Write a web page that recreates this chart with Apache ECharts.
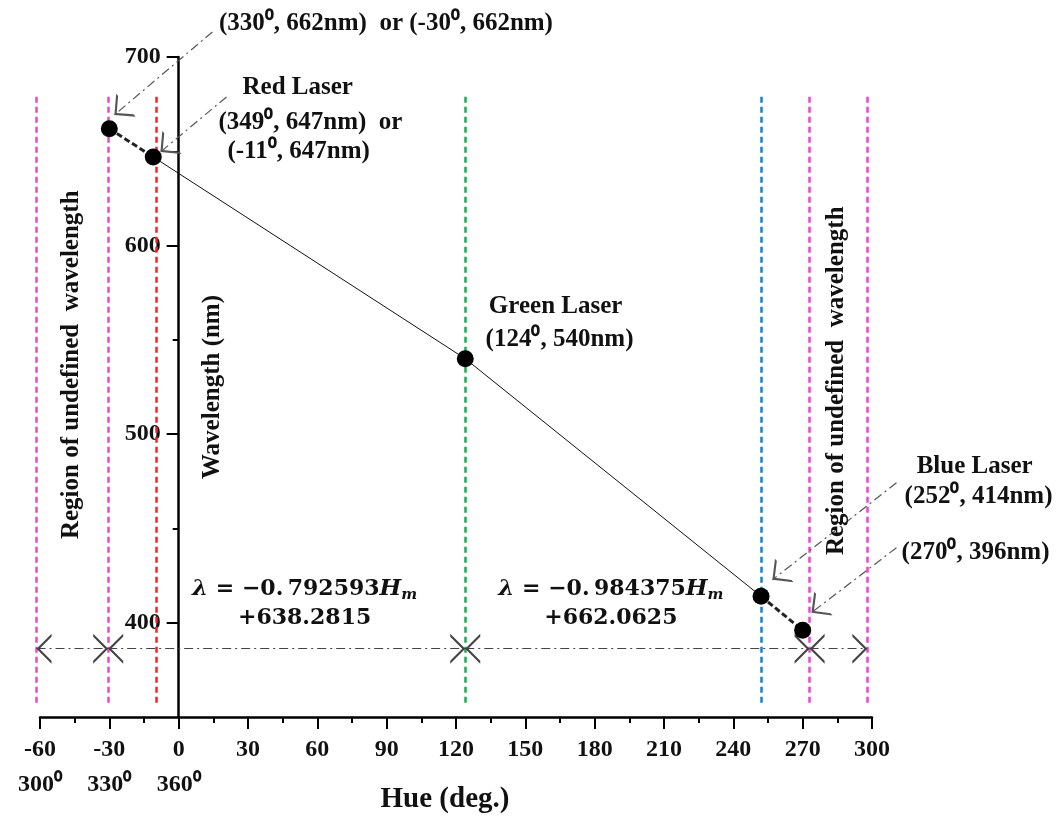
<!DOCTYPE html>
<html><head><meta charset="utf-8">
<script src="https://cdn.jsdelivr.net/npm/echarts@6/dist/echarts.min.js"></script>
<style>html,body{margin:0;padding:0;background:#fff}#c{width:1058px;height:817px}</style>
</head><body><div id="c"></div>
<script>
// measured laser points
const hues = [-30, -11, 124, 252, 270];
const wavelengths = [662, 647, 540, 414, 396];
// y axis ticks
const yMajorTicks = [400, 500, 600, 700];
const yMinorTicks = [450, 550, 650];
// vertical dashed guide lines
const guideHues = [-61.5, -30.5, -9.5, 124, 252, 273, 298];
const guideColors = ['#ea46cf', '#ea46cf', '#ff1f1f', '#1faa50', '#1a7fd0', '#ea46cf', '#ea46cf'];
const guideRange = [357.5, 680];
// horizontal double-arrow span line
const spanBounds = [-61.5, -30.5, 124, 273, 298];
const spanWave = 386.2;
// x tick labels (second row for wrapped hue)
const xSecondRow = { '-60': '300⁰', '-30': '330⁰', '0': '360⁰' };
// callout arrows (from label to point)
const calloutFrom = [[14.6, 713.3], [20.7, 678.8], [310.6, 474.2], [310.6, 439.8]];
const calloutTo = [[-27.8, 669.3], [-7.9, 649.6], [256.9, 422.8], [273.8, 405.3]];
// text annotations
const labelTexts = ['(330⁰, 662nm)  or (-30⁰, 662nm)', 'Red Laser', '(349⁰, 647nm)  or', '(-11⁰, 647nm)',
  'Green Laser', '(124⁰, 540nm)', 'Blue Laser', '(252⁰, 414nm)', '(270⁰, 396nm)',
  'Region of undefined  wavelength', 'Region of undefined  wavelength'];
const labelHues = [89.7, 51.5, 57.0, 51.9, 163.1, 164.8, 344.4, 346.1, 344.8, -46.4, 284.6];
const labelWaves = [717.5, 683.6, 665.5, 649.6, 567.5, 550.0, 482.7, 466.8, 437.1, 536.8, 528.3];
const labelRotations = [0, 0, 0, 0, 0, 0, 0, 0, 0, 90, 90];
// fitted equations
const formulaTexts = ['{i|λ} = −0.\u2009792593{i|H}{s|m}\n+638.2815', '{i|λ} = −0.\u2009984375{i|H}{s|m}\n+662.0625'];
const formulaHues = [54.5, 187.0];
const formulaWaves = [410.3, 410.3];

const serif = "'Liberation Serif', 'Times New Roman', serif";
const arrowPath = 'path://M0,0 L0.01,0 L0,0.01 Z M5,10 L10,20 L9,20 L5,12 L1,20 L0,20 Z';
const X_MIN = -60, X_MAX = 300, GRID_LEFT = 40, GRID_RIGHT = 186, W = 1058;
const zeroOffset = (0 - X_MIN) / (X_MAX - X_MIN) * (W - GRID_LEFT - GRID_RIGHT);

const series = [];
series.push({
  type: 'lines', coordinateSystem: 'cartesian2d', clip: false, silent: true, z: 1,
  data: guideHues.map((h, i) => ({ coords: [[h, guideRange[0]], [h, guideRange[1]]],
    lineStyle: { color: guideColors[i] } })),
  lineStyle: { width: 2.5, type: [6, 4], opacity: 1 }, symbol: 'none'
});
const spans = [];
for (let i = 0; i < spanBounds.length - 1; i++) spans.push({ coords: [[spanBounds[i], spanWave], [spanBounds[i + 1], spanWave]] });
series.push({
  type: 'lines', coordinateSystem: 'cartesian2d', clip: false, silent: true, z: 2,
  data: spans, lineStyle: { color: '#444', width: 1.2, type: [9, 4, 2, 4], opacity: 1 },
  symbol: [arrowPath, arrowPath], symbolSize: 30
});
series.push({
  type: 'lines', coordinateSystem: 'cartesian2d', clip: false, silent: true, z: 2,
  data: calloutFrom.map((f, i) => ({ coords: [f, calloutTo[i]] })),
  lineStyle: { color: '#555', width: 1.2, type: [9, 4, 2, 4], opacity: 1 },
  symbol: ['none', arrowPath], symbolSize: 30
});
const pts = hues.map((h, i) => [h, wavelengths[i]]);
series.push({ type: 'line', data: pts.slice(0, 2), symbol: 'none', z: 3,
  lineStyle: { color: '#222', width: 3, type: [6, 3] } });
series.push({ type: 'line', data: pts.slice(1, 4), symbol: 'none', z: 3,
  lineStyle: { color: '#111', width: 1 } });
series.push({ type: 'line', data: pts.slice(3, 5), symbol: 'none', z: 3,
  lineStyle: { color: '#222', width: 3, type: [6, 3] } });
series.push({ type: 'scatter', data: pts, symbol: 'circle', symbolSize: 17, z: 4,
  itemStyle: { color: '#000', opacity: 1 } });
series.push({
  type: 'scatter', symbolSize: 0, silent: true, z: 5, clip: false, itemStyle: { opacity: 1 },
  data: labelTexts.map((t, i) => ({ value: [labelHues[i], labelWaves[i]],
    label: { show: true, formatter: t, rotate: labelRotations[i] } })),
  label: { position: 'inside', align: 'center', verticalAlign: 'middle', color: '#111',
    fontFamily: serif, fontWeight: 'bold', fontSize: 25 }
});
series.push({
  type: 'scatter', symbolSize: 0, silent: true, z: 5, clip: false, itemStyle: { opacity: 1 },
  data: formulaTexts.map((t, i) => ({ value: [formulaHues[i], formulaWaves[i]],
    label: { show: true, formatter: t } })),
  label: { position: 'inside', align: 'center', verticalAlign: 'middle', color: '#111',
    fontFamily: "'DejaVu Serif', serif", fontWeight: 'bold', fontSize: 22, lineHeight: 29,
    rich: {
      i: { fontFamily: "'DejaVu Serif', serif", fontStyle: 'italic', fontWeight: 'bold', fontSize: 23, color: '#111' },
      s: { fontFamily: "'DejaVu Serif', serif", fontStyle: 'italic', fontWeight: 'bold', fontSize: 15, color: '#111', padding: [12, 0, 0, 0] }
    } }
});

const yCommon = { type: 'value', min: 350, max: 700, offset: -zeroOffset, splitLine: { show: false } };
const chart = echarts.init(document.getElementById('c'));
chart.setOption({
  animation: false,
  backgroundColor: '#fff',
  grid: { left: GRID_LEFT, right: GRID_RIGHT, top: 57, bottom: 100, containLabel: false, outerBoundsMode: 'none' },
  xAxis: {
    type: 'value', min: X_MIN, max: X_MAX, interval: 30,
    name: 'Hue (deg.)', nameLocation: 'middle', nameGap: 68, nameMoveOverlap: false,
    nameTextStyle: { fontFamily: serif, fontWeight: 'bold', fontSize: 29, color: '#111', padding: [0, 22, 0, 0] },
    axisLine: { lineStyle: { color: '#000', width: 2.5 } },
    axisTick: { length: 12, lineStyle: { color: '#000', width: 2 } },
    minorTick: { show: true, splitNumber: 2, length: 6, lineStyle: { color: '#000', width: 2 } },
    splitLine: { show: false },
    axisLabel: { fontFamily: serif, fontWeight: 'bold', fontSize: 24, color: '#111', margin: 15, lineHeight: 35,
      formatter: v => (xSecondRow[String(v)] ? v + '\n' + xSecondRow[String(v)] : String(v)) }
  },
  yAxis: [Object.assign({}, yCommon, {
    name: 'Wavelength (nm)', nameLocation: 'middle', nameGap: -46, nameMoveOverlap: false,
    nameTextStyle: { fontFamily: serif, fontWeight: 'bold', fontSize: 25, color: '#111' },
    axisLine: { onZero: false, lineStyle: { color: '#000', width: 2.5 } },
    axisTick: { length: 12, customValues: yMajorTicks, lineStyle: { color: '#000', width: 2 } },
    axisLabel: { fontFamily: serif, fontWeight: 'bold', fontSize: 24, color: '#111', margin: 18, customValues: yMajorTicks }
  }), Object.assign({}, yCommon, {
    position: 'left',
    axisLine: { show: false, onZero: false },
    axisTick: { length: 6, customValues: yMinorTicks, lineStyle: { color: '#000', width: 2 } },
    axisLabel: { show: false }
  })],
  series: series
});
</script></body></html>
